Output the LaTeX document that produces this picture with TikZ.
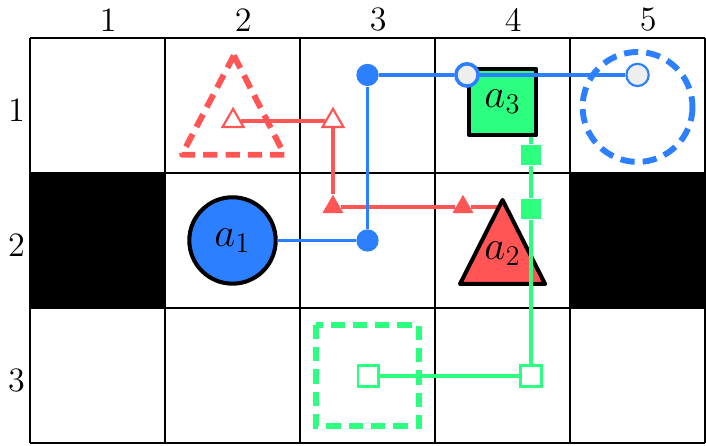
\documentclass[tikz,border=0pt]{standalone}
\usepackage{amsmath}
\usepackage{amssymb}
\usetikzlibrary{shapes.geometric}

\definecolor{agentblue}{RGB}{44,127,255}
\definecolor{agentred}{RGB}{255,85,85}
\definecolor{agentgreen}{RGB}{44,255,127}
\definecolor{markgray}{RGB}{238,238,238}

\begin{document}
\begin{tikzpicture}[x=2cm, y=-2cm,
  cellline/.style = {line width=1.2pt},
  wall/.style = {fill=black},
  axis/.style = {font=\Large, inner sep=0pt},
  agent/.style = {draw=black, line width=1.7pt, line join=round, inner sep=0pt, font=\LARGE},
  goal/.style = {line width=2.5pt, dash pattern=on 6pt off 3.4pt},
  trail/.style = {line width=1.4pt},
  dotmark/.style = {circle, inner sep=0pt, minimum size=0.33cm},
  trimark/.style = {regular polygon, regular polygon sides=3, inner sep=0pt, minimum size=0.36cm},
  boxmark/.style = {rectangle, inner sep=0pt, minimum size=0.31cm},
  ]
  \useasboundingbox (-0.222,-0.281) rectangle (5.007,3.022);

  % walls and cells
  \fill[wall] (0,1) rectangle (1,2);
  \fill[wall] (4,1) rectangle (5,2);
  \draw[cellline, step=2cm] (0,0) grid (5,3);

  % column and row numbers
  \node[axis] (col1) at (0.58,-0.133) {1};
  \node[axis] (col2) at (1.58,-0.133) {2};
  \node[axis] (col3) at (2.58,-0.133) {3};
  \node[axis] (col4) at (3.58,-0.133) {4};
  \node[axis] (col5) at (4.58,-0.133) {5};
  \node[axis] (row1) at (-0.1,0.537) {1};
  \node[axis] (row2) at (-0.1,1.537) {2};
  \node[axis] (row3) at (-0.1,2.537) {3};

  % goals
  \draw[goal, agentred, line join=round] (1.51,0.13) -- (1.885,0.865) -- (1.125,0.865) -- cycle;
  \draw[goal, agentblue] (4.5,0.511) circle (0.407);
  \draw[goal, agentgreen] (2.12,2.125) rectangle (2.88,2.875);

  % red agent
  \node[trimark, draw=agentred, fill=white, line width=0.9pt] (r1) at (1.504,0.615) {};
  \node[trimark, draw=agentred, fill=white, line width=0.9pt] (r2) at (2.244,0.615) {};
  \node[trimark, fill=agentred] (r3) at (2.244,1.252) {};
  \node[trimark, fill=agentred] (r4) at (3.207,1.252) {};
  \coordinate (r5) at (3.5,1.252);
  \draw[trail, agentred] (r1) -- (r2) -- (r3) -- (r4) -- (r5);
  \filldraw[agent, fill=agentred] (3.5,1.2) -- (3.815,1.822) -- (3.185,1.822) -- cycle;
  \node[font=\LARGE, inner sep=0pt] (a2) at (3.5,1.6) {$a_2$};

  % green agent
  \coordinate (g0) at (3.711,0.5);
  \node[boxmark, fill=agentgreen] (g1) at (3.711,0.867) {};
  \node[boxmark, fill=agentgreen] (g2) at (3.711,1.267) {};
  \node[boxmark, draw=agentgreen, fill=white, line width=0.9pt] (g3) at (3.711,2.504) {};
  \node[boxmark, draw=agentgreen, fill=white, line width=0.9pt] (g4) at (2.504,2.504) {};
  \draw[trail, agentgreen] (g0) -- (g1) -- (g2) -- (g3) -- (g4);
  \node[agent, rectangle, fill=agentgreen, minimum size=0.99cm] (a3) at (3.5,0.474) {$a_3$};

  % blue agent
  \node[agent, circle, fill=agentblue, minimum size=1.28cm] (a1) at (1.5,1.5) {$a_1$};
  \node[dotmark, fill=agentblue] (b1) at (2.5,1.5) {};
  \node[dotmark, fill=agentblue] (b2) at (2.5,0.274) {};
  \node[dotmark, draw=agentblue, fill=markgray, line width=1.5pt] (b3) at (3.237,0.274) {};
  \node[dotmark, draw=agentblue, fill=markgray, line width=0.9pt] (b4) at (4.5,0.274) {};
  \draw[trail, agentblue] (a1) -- (b1) -- (b2) -- (b3) -- (b4);
\end{tikzpicture}
\end{document}
